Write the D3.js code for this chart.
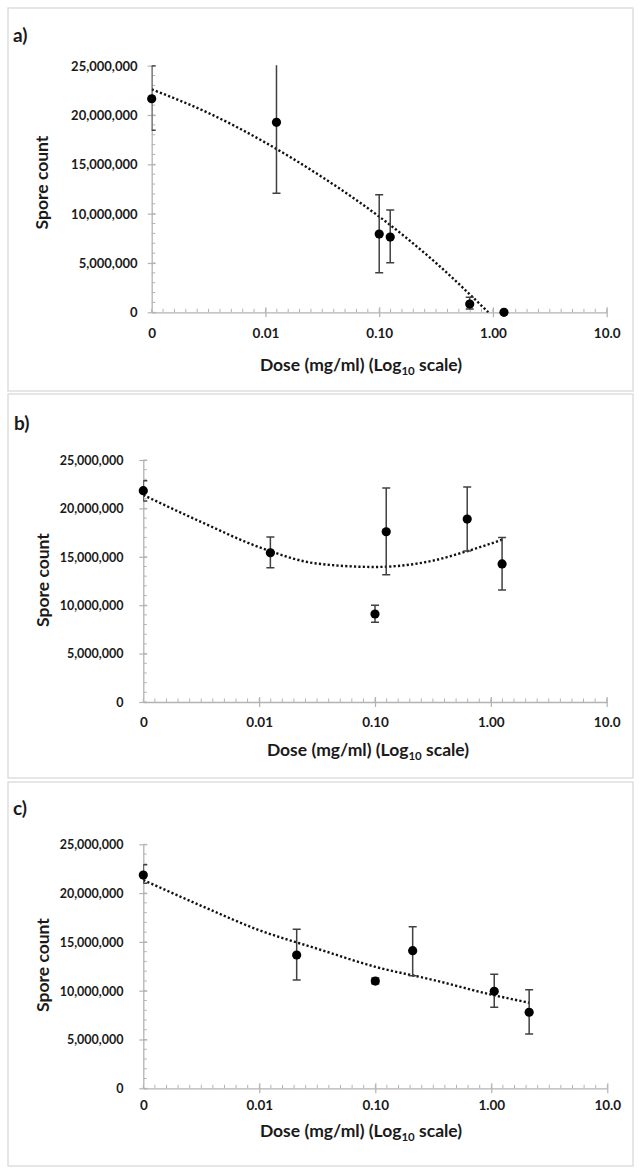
<!DOCTYPE html>
<html><head><meta charset="utf-8">
<script src="https://cdn.jsdelivr.net/npm/d3@7"></script>
<style>
body{margin:0;background:#fff}
svg{display:block}
text{font-family:Lato,"Open Sans",sans-serif;font-weight:700;fill:#1a1a1a}
</style>
</head><body><svg id="chart" width="641" height="1175"></svg>
<script>
// ---------- data ----------
const panelLabels = ["a)", "b)", "c)"];
const xTickValues = [0.001, 0.01, 0.1, 1, 10];
const xTickLabels = ["0", "0.01", "0.10", "1.00", "10.0"];
const yTickValues = [0, 5e6, 10e6, 15e6, 20e6, 25e6];
const yAxisTitle = "Spore count";
const xAxisTitleParts = ["Dose (mg/ml) (Log", "10", " scale)"];

const doseA = [0.001, 0.0125, 0.1, 0.125, 0.625, 1.25];
const countA = [21.65e6, 19.26e6, 7.94e6, 7.63e6, 0.84e6, 0];
const errLowA = [18.45e6, 12.06e6, 4.01e6, 5.03e6, 0.33e6, 0];
const errHighA = [25.0e6, 25.6e6, 11.92e6, 10.37e6, 1.52e6, 0];
const trendDoseA = [0.001, 0.00316, 0.01, 0.0316, 0.1, 0.316, 0.91];
const trendCountA = [22.6e6, 20.2e6, 17.2e6, 13.7e6, 9.7e6, 5.0e6, 0];

const doseB = [0.001, 0.0125, 0.1, 0.125, 0.625, 1.25];
const countB = [21.83e6, 15.42e6, 9.09e6, 17.59e6, 18.9e6, 14.26e6];
const errLowB = [20.76e6, 13.87e6, 8.23e6, 13.15e6, 15.6e6, 11.57e6];
const errHighB = [22.86e6, 17.05e6, 9.99e6, 22.1e6, 22.2e6, 17.0e6];
const trendDoseB = [0.001, 0.00316, 0.01, 0.0316, 0.1, 0.316, 0.631, 1.28];
const trendCountB = [21.38e6, 18.6e6, 16.0e6, 14.3e6, 13.95e6, 14.6e6, 15.6e6, 16.8e6];

const doseC = [0.001, 0.021, 0.1, 0.21, 1.06, 2.12];
const countC = [21.85e6, 13.66e6, 10.99e6, 14.1e6, 9.94e6, 7.79e6];
const errLowC = [21.0e6, 11.1e6, 10.7e6, 11.54e6, 8.3e6, 5.56e6];
const errHighC = [22.9e6, 16.29e6, 11.3e6, 16.56e6, 11.68e6, 10.1e6];
const trendDoseC = [0.001, 0.00316, 0.01, 0.0316, 0.1, 0.316, 1.0, 2.12];
const trendCountC = [21.34e6, 18.7e6, 16.2e6, 14.3e6, 12.45e6, 11.1e6, 9.6e6, 8.77e6];

// ---------- layout ----------
const layout = [
  {box:[8,8,633,391], x0:151.7, x1:606.7, top:65.7, base:312.3, lab:[13,42], ytRight:137.5, ytSize:13, ytitle:[42,182.5], xtY:333, xtitle:[361,365]},
  {box:[8,394,633,778], x0:143.3, x1:606.7, top:460, base:702, lab:[14,430], ytRight:123.5, ytSize:12.5, ytitle:[43,580], xtY:722.7, xtitle:[368,750]},
  {box:[8,782,633,1166], x0:143.3, x1:607.3, top:844.3, base:1088.3, lab:[13,815], ytRight:123.5, ytSize:12.5, ytitle:[43,965], xtY:1105, xtitle:[361,1131]}
];
const series = [
  {dose:doseA, count:countA, lo:errLowA, hi:errHighA, tDose:trendDoseA, tCount:trendCountA},
  {dose:doseB, count:countB, lo:errLowB, hi:errHighB, tDose:trendDoseB, tCount:trendCountB},
  {dose:doseC, count:countC, lo:errLowC, hi:errHighC, tDose:trendDoseC, tCount:trendCountC}
];

const svg = d3.select("#chart");
const fmt = d3.format(",");
const axisColor = "#b3b3b3";
const textColor = "#1a1a1a";

layout.forEach((L, i) => {
  const S = series[i];
  const g = svg.append("g");
  g.append("rect").attr("x", L.box[0]).attr("y", L.box[1])
    .attr("width", L.box[2]-L.box[0]).attr("height", L.box[3]-L.box[1])
    .attr("fill", "#fff").attr("stroke", "#d9d9d9").attr("stroke-width", 1.3);

  g.append("text").attr("x", L.lab[0]).attr("y", L.lab[1]).attr("font-size", 19).text(panelLabels[i]);

  const x = d3.scaleLog().domain([0.001, 10]).range([L.x0, L.x1]);
  const y = d3.scaleLinear().domain([0, 25e6]).range([L.base, L.top]);

  // minor x ticks (evenly spaced, 10 per decade)
  const minorX = d3.range(0, 41).map(k => L.x0 + (L.x1 - L.x0) * k / 40);
  g.append("g").selectAll("line").data(minorX).join("line")
    .attr("x1", d => d).attr("x2", d => d).attr("y1", L.base).attr("y2", L.base - 3.5)
    .attr("stroke", axisColor).attr("stroke-width", 1);
  // minor y ticks every 1,000,000
  const minorY = d3.range(0, 26).map(k => k * 1e6);
  g.append("g").selectAll("line").data(minorY).join("line")
    .attr("x1", L.x0).attr("x2", L.x0 + 3.5).attr("y1", d => y(d)).attr("y2", d => y(d))
    .attr("stroke", axisColor).attr("stroke-width", 1);

  // x axis
  const xAxis = d3.axisBottom(x).tickValues(xTickValues).tickFormat((d, k) => xTickLabels[k]).tickSize(5).tickSizeOuter(0);
  const gx = g.append("g").attr("transform", `translate(0,${L.base})`).call(xAxis);
  gx.select(".domain").attr("stroke", axisColor).attr("stroke-width", 1.3);
  gx.selectAll(".tick line").attr("stroke", axisColor).attr("stroke-width", 1.2).attr("y1", -5).attr("y2", 5);
  gx.selectAll(".tick text").attr("y", L.xtY - L.base).attr("dy", "0.35em")
    .attr("font-size", 13.5).attr("font-family", "Lato").attr("font-weight", 700).attr("fill", textColor);
  gx.selectAll(".tick").filter(d => d === 0.001).select("line").remove();

  // y axis
  const yAxis = d3.axisLeft(y).tickValues(yTickValues).tickFormat(fmt).tickSize(4).tickSizeOuter(0);
  const gy = g.append("g").attr("transform", `translate(${L.x0},0)`).call(yAxis);
  gy.select(".domain").attr("stroke", axisColor).attr("stroke-width", 1.3);
  gy.selectAll(".tick line").attr("stroke", axisColor).attr("stroke-width", 1.2).attr("x1", -4).attr("x2", 4);
  gy.selectAll(".tick text").attr("x", L.ytRight - L.x0).attr("dy", "0.35em")
    .attr("font-size", L.ytSize).attr("font-family", "Lato").attr("font-weight", 700).attr("fill", textColor);

  // axis titles
  g.append("text").attr("transform", `translate(${L.ytitle[0]},${L.ytitle[1]}) rotate(-90)`)
    .attr("text-anchor", "middle").attr("dy", "0.35em").attr("font-size", 17.5).text(yAxisTitle);
  const xt = g.append("text").attr("x", L.xtitle[0]).attr("y", L.xtitle[1]).attr("dy", "0.35em")
    .attr("text-anchor", "middle").attr("font-size", 17.5);
  xt.append("tspan").text(xAxisTitleParts[0]);
  xt.append("tspan").attr("font-size", 11.5).attr("dy", "4").text(xAxisTitleParts[1]);
  xt.append("tspan").attr("dy", "-4").text(xAxisTitleParts[2]);

  // clip
  const clipId = "clip" + i;
  svg.append("clipPath").attr("id", clipId).append("rect")
    .attr("x", L.x0).attr("y", L.top - 0.5).attr("width", L.x1 - L.x0).attr("height", L.base - L.top + 1);

  // trendline
  const pts = S.tDose.map((d, k) => [d, S.tCount[k]]);
  const line = d3.line().x(d => x(d[0])).y(d => y(d[1])).curve(d3.curveMonotoneX);
  g.append("path").attr("d", line(pts)).attr("fill", "none").attr("stroke", "#111")
    .attr("stroke-width", 2.4).attr("stroke-dasharray", "2.2,2.2").attr("clip-path", `url(#${clipId})`);

  // error bars
  const eb = g.append("g").attr("clip-path", `url(#${clipId})`)
    .attr("stroke", "#404040").attr("stroke-width", 1.5);
  const idx = d3.range(S.dose.length).filter(k => S.hi[k] > S.lo[k]);
  eb.selectAll(".v").data(idx).join("line")
    .attr("x1", k => x(S.dose[k])).attr("x2", k => x(S.dose[k]))
    .attr("y1", k => y(S.lo[k])).attr("y2", k => y(S.hi[k]));
  eb.selectAll(".ch").data(idx).join("line")
    .attr("x1", k => x(S.dose[k]) - 4).attr("x2", k => x(S.dose[k]) + 4)
    .attr("y1", k => y(S.hi[k])).attr("y2", k => y(S.hi[k]));
  eb.selectAll(".cl").data(idx).join("line")
    .attr("x1", k => x(S.dose[k]) - 4).attr("x2", k => x(S.dose[k]) + 4)
    .attr("y1", k => y(S.lo[k])).attr("y2", k => y(S.lo[k]));

  // points
  g.append("g").selectAll("circle").data(d3.range(S.dose.length)).join("circle")
    .attr("cx", k => x(S.dose[k])).attr("cy", k => y(S.count[k])).attr("r", 4.6)
    .attr("fill", "#000");
});
</script>
</body></html>
